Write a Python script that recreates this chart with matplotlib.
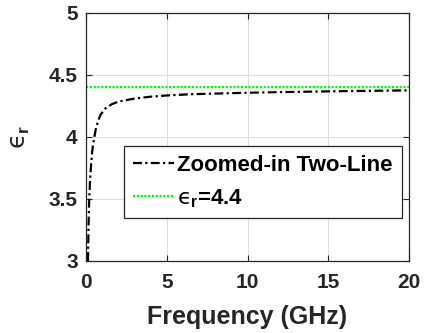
import numpy as np
import matplotlib
matplotlib.use('Agg')
import matplotlib.pyplot as plt

# Extracted permittivity vs frequency (zoomed-in two-line method)
freq_ghz = [0.12, 0.16, 0.2, 0.25, 0.3, 0.38, 0.45, 0.6, 0.75, 0.9, 1.2, 1.6,
            2.0, 3.0, 4.0, 5.0, 6.5, 8.0, 10.0, 12.0, 14.0, 16.0, 18.0, 20.0]
eps_two_line = [3.0, 3.3, 3.5, 3.65, 3.75, 3.88, 3.95, 4.06, 4.13, 4.18, 4.23, 4.265,
                4.285, 4.31, 4.325, 4.335, 4.345, 4.35, 4.357, 4.362, 4.366, 4.37, 4.373, 4.376]

# Nominal substrate permittivity
eps_nominal = 4.4
x_range = [0, 20]

plt.rcParams['font.family'] = ['Liberation Sans', 'DejaVu Sans']
plt.rcParams['font.weight'] = 'bold'
plt.rcParams['mathtext.fontset'] = 'custom'
plt.rcParams['mathtext.rm'] = 'Liberation Sans:weight=bold'
plt.rcParams['mathtext.bf'] = 'Liberation Sans:weight=bold'
plt.rcParams['mathtext.it'] = 'DejaVu Sans:weight=normal:style=normal'

axis_col = '#262626'
eps_sym = '$\\mathit{\u03f5}_{\\mathbf{r}}$'

fig = plt.figure(figsize=(4.24, 3.33), dpi=100)
ax = fig.add_axes([86 / 424, 1 - 261 / 333, 323 / 424, 248 / 333])

ax.plot(freq_ghz, eps_two_line, color='black', lw=1.6,
        linestyle=(0, (4, 1.5, 1, 1.5)), label='Zoomed-in Two-Line')
ax.plot(x_range, [eps_nominal, eps_nominal], color='#00ff00', lw=1.6,
        linestyle=(0, (1, 0.7)), label=eps_sym + '=4.4')

ax.set_xlim(0, 20)
ax.set_ylim(3, 5)
ax.set_xticks([0, 5, 10, 15, 20])
ax.set_yticks([3, 3.5, 4, 4.5, 5])
ax.set_yticklabels(['3', '3.5', '4', '4.5', '5'])
ax.grid(True, color='#dcdcdc', lw=0.8)
ax.set_axisbelow(True)

ax.tick_params(direction='in', top=True, right=True, length=4, width=0.8,
               colors=axis_col, labelsize=15)
ax.tick_params(axis='x', pad=9)
ax.tick_params(axis='y', pad=6)
for lbl in ax.get_xticklabels() + ax.get_yticklabels():
    lbl.set_fontweight('bold')
for sp in ax.spines.values():
    sp.set_color(axis_col)
    sp.set_linewidth(0.9)

ax.set_xlabel('Frequency (GHz)', fontsize=18, fontweight='bold', color=axis_col, labelpad=9)
ax.set_ylabel(eps_sym, fontsize=18, color=axis_col, labelpad=12)

leg = ax.legend(loc='upper left', bbox_to_anchor=(0.118, 0.464), borderaxespad=0,
                prop={'weight': 'bold', 'size': 16}, handlelength=1.85,
                handletextpad=0.15, labelspacing=0.5, fancybox=False,
                framealpha=1, borderpad=0.4)
leg.get_frame().set_edgecolor(axis_col)
leg.get_frame().set_linewidth(0.9)

fig.savefig('out.png', dpi=100)
